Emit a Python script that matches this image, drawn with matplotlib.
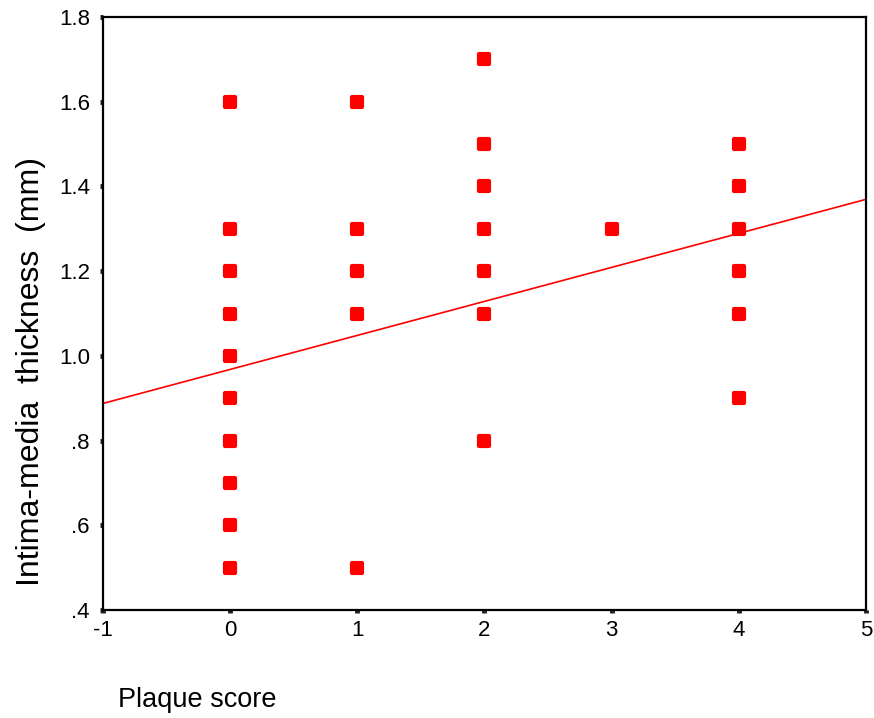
import matplotlib.pyplot as plt
import numpy as np
from matplotlib.markers import MarkerStyle

plt.rcParams['font.family'] = ['Liberation Sans', 'DejaVu Sans']

# plaque score vs intima-media thickness (distinct points visible)
plaque_score = [0, 0, 0, 0, 0, 0, 0, 0, 0, 0,
                1, 1, 1, 1, 1,
                2, 2, 2, 2, 2, 2, 2,
                3,
                4, 4, 4, 4, 4, 4]
imt_mm = [1.6, 1.3, 1.2, 1.1, 1.0, 0.9, 0.8, 0.7, 0.6, 0.5,
          1.6, 1.3, 1.2, 1.1, 0.5,
          1.7, 1.5, 1.4, 1.3, 1.2, 1.1, 0.8,
          1.3,
          1.5, 1.4, 1.3, 1.2, 1.1, 0.9]

# fitted regression line
fit_intercept = 0.968
fit_slope = 0.0803

x_ticks = [-1, 0, 1, 2, 3, 4, 5]
y_ticks = [0.4, 0.6, 0.8, 1.0, 1.2, 1.4, 1.6, 1.8]
y_tick_labels = ['.4', '.6', '.8', '1.0', '1.2', '1.4', '1.6', '1.8']

fig = plt.figure(figsize=(8.74, 7.18), dpi=100, facecolor='white')
ax = fig.add_axes([0.1178, 0.1504, 0.873, 0.8259])

marker = MarkerStyle('s', joinstyle='round')
ax.scatter(plaque_score, imt_mm, marker=marker, s=48, c='#ff0000',
           edgecolors='#ff0000', linewidths=3, zorder=3)

xs = np.array([x_ticks[0], x_ticks[-1]])
ax.plot(xs, fit_intercept + fit_slope * xs, color='#ff0000', lw=1.2, zorder=2)

ax.set_xlim(-1, 5)
ax.set_ylim(0.4, 1.8)
ax.set_xticks(x_ticks)
ax.set_xticklabels([str(t) for t in x_ticks])
ax.set_yticks(y_ticks)
ax.set_yticklabels(y_tick_labels)

for sp in ax.spines.values():
    sp.set_linewidth(1.6)
    sp.set_color('black')

ax.tick_params(direction='out', length=2.5, width=3.5, color='#222222',
               labelsize=16, pad=7)
ax.tick_params(axis='x', pad=5)

fig.text(0.035, 0.482, 'Intima-media  thickness  (mm)', rotation=90,
         ha='center', va='center', fontsize=23)
fig.text(0.135, 0.025, 'Plaque score', ha='left', va='center', fontsize=19.5)

fig.savefig('out.png', dpi=100, facecolor='white')
